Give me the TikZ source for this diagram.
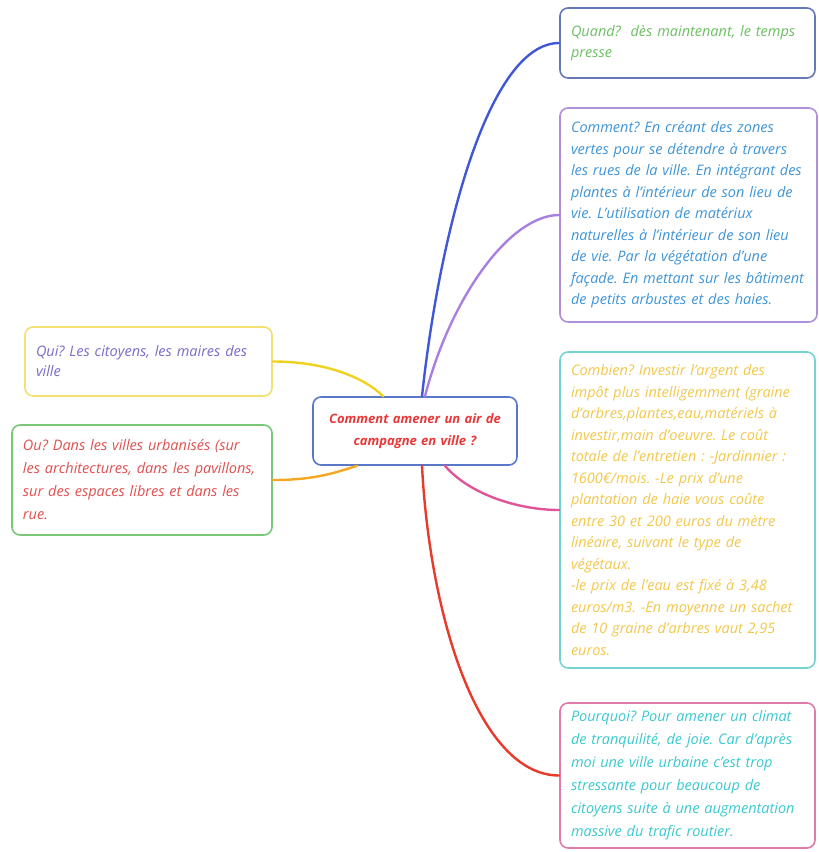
\documentclass[tikz,border=0pt]{standalone}
\usepackage{fontspec}
\setmainfont{Open Sans}
\usetikzlibrary{positioning}
\definecolor{quandbd}{HTML}{6678B8}
\definecolor{quandtx}{HTML}{6CBF62}
\definecolor{commentbd}{HTML}{B08FD8}
\definecolor{commenttx}{HTML}{3F95D6}
\definecolor{combienbd}{HTML}{74D4D4}
\definecolor{combientx}{HTML}{F2C84B}
\definecolor{pourquoibd}{HTML}{E07AA8}
\definecolor{pourquoitx}{HTML}{3CC8D0}
\definecolor{quibd}{HTML}{F2E070}
\definecolor{quitx}{HTML}{7A6CC8}
\definecolor{oubd}{HTML}{78C878}
\definecolor{outx}{HTML}{E05050}
\definecolor{centrebd}{HTML}{5A78C8}
\definecolor{centretx}{HTML}{E83838}
\tikzset{topic/.style={draw, rounded corners=8pt, line width=1.6pt, fill=white,
    align=left, inner xsep=11pt, inner ysep=4pt,
    font=\itshape\fontsize{14.5}{21.5}\selectfont}}
\tikzset{branch/.style={line width=2.4pt, line cap=round}}
\frenchspacing

\begin{document}
\begin{tikzpicture}[x=1pt, y=-1pt]
    \useasboundingbox (0,0) rectangle (819,852);
    \node[topic, draw=centrebd, text=centretx, align=center, text width=182pt,
      minimum width=204pt, minimum height=68pt,
      font=\bfseries\itshape\fontsize{13}{22}\selectfont] (centre) at (415,431)
      {Comment amener un air de\\campagne en ville ?};
    \node[topic, draw=quandbd, text=quandtx, text width=233pt,
      minimum height=70pt] (quand) at (687.5,43)
      {Quand?~ dès maintenant, le temps\\presse};
    \node[topic, draw=commentbd, text=commenttx, text width=235pt,
      minimum height=214pt] (comment) at (688.5,215)
      {Comment? En créant des zones\\vertes pour se détendre à travers\\les rues de la ville. En intégrant des\\plantes à l'intérieur de son lieu de\\vie. L'utilisation de matériux\\naturelles à l'intérieur de son lieu\\de vie. Par la végétation d'une\\façade. En mettant sur les bâtiment\\de petits arbustes et des haies.};
    \node[topic, draw=combienbd, text=combientx, text width=233pt,
      minimum height=316pt] (combien) at (687.5,510)
      {Combien? Investir l'argent des\\impôt plus intelligemment (graine\\d'arbres,plantes,eau,matériels à\\investir,main d'oeuvre. Le coût\\totale de l'entretien : -Jardinnier :\\1600€/mois. -Le prix d'une\\plantation de haie vous coûte\\entre 30 et 200 euros du mètre\\linéaire, suivant le type de\\végétaux.\\-le prix de l'eau est fixé à 3,48\\euros/m3. -En moyenne un sachet\\de 10 graine d'arbres vaut 2,95\\euros.};
    \node[topic, draw=pourquoibd, text=pourquoitx, text width=233pt,
      minimum height=145pt, font=\itshape\fontsize{14.5}{23}\selectfont] (pourquoi) at (687.5,775.5)
      {Pourquoi? Pour amener un climat\\de tranquilité, de joie. Car d'après\\moi une ville urbaine c'est trop\\stressante pour beaucoup de\\citoyens suite à une augmentation\\massive du trafic routier.};
    \node[topic, draw=quibd, text=quitx, text width=225pt,
      minimum height=69pt, font=\itshape\fontsize{14.5}{20}\selectfont] (qui) at (148.5,361.5)
      {Qui? Les citoyens, les maires des\\ville};
    \node[topic, draw=oubd, text=outx, text width=238pt,
      minimum height=110pt, font=\itshape\fontsize{14.5}{23}\selectfont] (ou) at (142,480)
      {Ou? Dans les villes urbanisés (sur\\les architectures, dans les pavillons,\\sur des espaces libres et dans les\\rue.};
    % branches
    \draw[branch, draw={rgb,255:red,64;green,88;blue,216}]
      ([xshift=7pt]centre.north) .. controls +(18,-167) and +(-70,0) .. (quand.west);
    \draw[branch, draw={rgb,255:red,168;green,128;blue,224}]
      ([xshift=10pt]centre.north) .. controls +(25,-97) and +(-50,0) .. (comment.west);
    \draw[branch, draw={rgb,255:red,224;green,85;blue,154}]
      ([xshift=30pt]centre.south) .. controls +(25,29) and +(-40,0) .. (combien.west);
    \draw[branch, draw={rgb,255:red,232;green,57;blue,42}]
      ([xshift=7pt]centre.south) .. controls +(8,153) and +(-80,0) .. (pourquoi.west);
    \draw[branch, draw={rgb,255:red,238;green,210;blue,30}]
      (qui.east) .. controls +(50,0) and +(-20,-20) .. ([xshift=-32pt]centre.north);
    \draw[branch, draw={rgb,255:red,245;green,166;blue,35}]
      (ou.east) .. controls +(40,0) and +(-25,8) .. ([xshift=-58pt]centre.south);
\end{tikzpicture}
\end{document}
